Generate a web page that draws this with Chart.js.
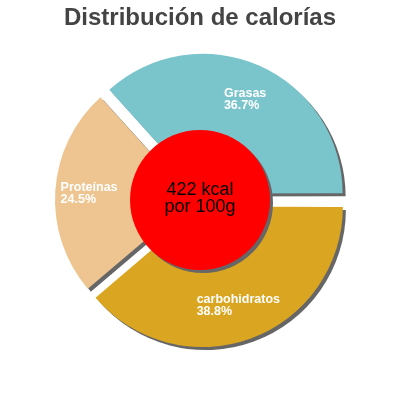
<!DOCTYPE html>
<html>
<head>
<meta charset="utf-8">
<script src="https://cdn.jsdelivr.net/npm/chart.js@4"></script>
<style>
html,body{margin:0;padding:0;background:#fff;}
#wrap{width:400px;height:400px;position:relative;}
</style>
</head>
<body>
<div id="wrap"><canvas id="c"></canvas></div>
<script>
const categories = ["Grasas", "carbohidratos", "Proteínas"];
const values = [36.7, 38.8, 24.5];
const colors = ["#7AC4CC", "#DAA520", "#EEC591"];
const titleText = "Distribución de calorías";
const centerLines = ["422 kcal", "por 100g"];

const total = values.reduce((a, b) => a + b, 0);
const startRotation = 90 - values[0] / total * 360;
const FONT = '"Liberation Sans", Arial, sans-serif';

const shadowPlugin = {
  id: 'shadow',
  beforeDatasetsDraw(chart) {
    const ctx = chart.ctx;
    ctx.save();
    ctx.shadowColor = '#666666';
    ctx.shadowOffsetX = 3;
    ctx.shadowOffsetY = 3;
    ctx.shadowBlur = 0;
  },
  afterDatasetsDraw(chart) {
    const ctx = chart.ctx;
    ctx.restore();
    const meta = chart.getDatasetMeta(0);
    const el0 = meta.data[0];
    const cx = el0.x, cy = el0.y;
    // center red disc
    ctx.save();
    ctx.shadowColor = '#666666';
    ctx.shadowOffsetX = 3;
    ctx.shadowOffsetY = 3;
    ctx.shadowBlur = 0;
    ctx.beginPath();
    ctx.arc(cx, cy, 70, 0, Math.PI * 2);
    ctx.fillStyle = '#FF0000';
    ctx.fill();
    ctx.restore();
    // center text
    ctx.save();
    ctx.fillStyle = '#000';
    ctx.font = '18px ' + FONT;
    ctx.textAlign = 'center';
    ctx.textBaseline = 'alphabetic';
    ctx.fillText(centerLines[0], cx, cy - 5);
    ctx.fillText(centerLines[1], cx, cy + 12);
    ctx.restore();
    // slice labels
    const offs = chart.data.datasets[0].offset;
    ctx.save();
    ctx.fillStyle = '#FFFFFF';
    ctx.font = 'bold 12.5px ' + FONT;
    ctx.textAlign = 'left';
    ctx.textBaseline = 'alphabetic';
    meta.data.forEach((el, i) => {
      const mid = (el.startAngle + el.endAngle) / 2;
      const r = el.outerRadius * 0.755 + offs / 4;
      const bx = el.x + Math.cos(mid) * r;
      const by = el.y + Math.sin(mid) * r;
      const l1 = categories[i];
      const l2 = values[i].toFixed(1) + '%';
      const w = Math.max(ctx.measureText(l1).width, ctx.measureText(l2).width);
      const x0 = bx - w / 2;
      ctx.fillText(l1, x0, by - 1.5);
      ctx.fillText(l2, x0, by + 10.5);
    });
    ctx.restore();
    // title
    ctx.save();
    ctx.fillStyle = '#444444';
    ctx.font = 'bold 24px ' + FONT;
    ctx.textAlign = 'center';
    ctx.textBaseline = 'alphabetic';
    ctx.fillText(titleText, 200, 25);
    ctx.restore();
  }
};

new Chart(document.getElementById('c'), {
  type: 'pie',
  data: {
    labels: categories,
    datasets: [{
      data: values,
      backgroundColor: colors,
      borderWidth: 0,
      offset: 28
    }]
  },
  options: {
    responsive: true,
    maintainAspectRatio: false,
    devicePixelRatio: 1,
    animation: false,
    rotation: startRotation,
    radius: 138,
    layout: { padding: 0 },
    plugins: {
      legend: { display: false },
      tooltip: { enabled: false },
      title: { display: false }
    }
  },
  plugins: [shadowPlugin]
});
</script>
</body>
</html>
